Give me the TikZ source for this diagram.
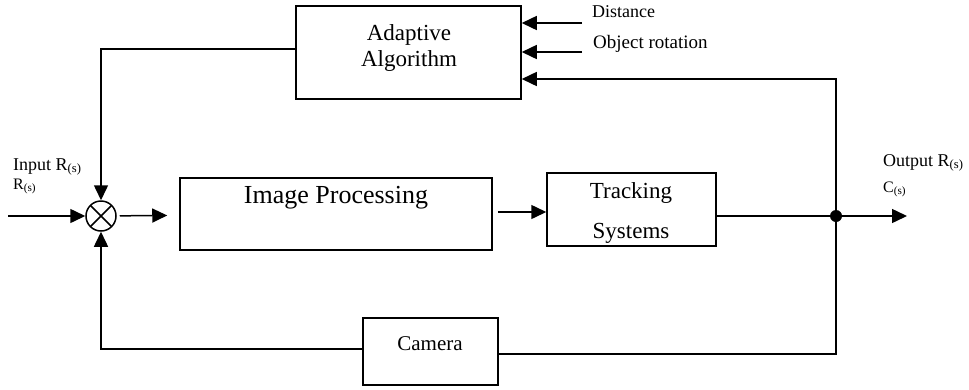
\documentclass[tikz,border=0pt]{standalone}
\usepackage{fontspec}
\setmainfont{Liberation Serif}
\usetikzlibrary{arrows.meta}
\begin{document}
\begin{tikzpicture}[x=1pt,y=-1pt,
  box/.style={draw,line width=1.5pt,inner sep=0pt},
  lbl/.style={inner sep=0pt,anchor=base},
  lblw/.style={inner sep=0pt,anchor=base west},
  conn/.style={line width=1.5pt},
  arr/.style={line width=1.5pt,-{Triangle[length=15pt,width=14pt]}},
  every node/.style={font=\fontsize{18}{20}\selectfont}]
\useasboundingbox (0,0) rectangle (969,389);
% boxes
\node[box,minimum width=225pt,minimum height=93pt] (ada) at (408.5,52.5) {};
\node[box,minimum width=312pt,minimum height=72pt] (img) at (336,214) {};
\node[box,minimum width=169pt,minimum height=73pt] (trk) at (631.5,209.5) {};
\node[box,minimum width=135pt,minimum height=67pt] (cam) at (430.5,351.5) {};
\node[draw,circle,line width=1.5pt,minimum size=30pt,inner sep=0pt,
  path picture={\draw[line width=1.5pt] (path picture bounding box.north west) -- (path picture bounding box.south east)
    (path picture bounding box.north east) -- (path picture bounding box.south west);}] (sum) at (101,216) {};
\fill (836,216) circle (6pt) coordinate (jn);
% box texts
\node[lbl,font=\fontsize{23}{25}\selectfont] (adaT1) at (409,40) {Adaptive};
\node[lbl,font=\fontsize{23}{25}\selectfont] (adaT2) at (409,66) {Algorithm};
\node[lbl,font=\fontsize{26}{28}\selectfont] (imgT) at (336,203) {Image Processing};
\node[lbl,font=\fontsize{23}{25}\selectfont] (trkT1) at (631,198) {Tracking};
\node[lbl,font=\fontsize{23}{25}\selectfont] (trkT2) at (631,238) {Systems};
\node[lbl,font=\fontsize{21}{23}\selectfont] (camT) at (430,350) {Camera};
% other texts
\node[lblw] (dstT) at (592,17) {Distance};
\node[lblw,font=\fontsize{19}{21}\selectfont] (rotT) at (593,48) {Object rotation};
\node[lblw] (inT1) at (13,170) {Input R\textsubscript{(s)}};
\node[lblw,font=\fontsize{16}{18}\selectfont] (inT2) at (13,189) {R\textsubscript{(s)}};
\node[lblw] (outT1) at (883,166) {Output R\textsubscript{(s)}};
\node[lblw,font=\fontsize{16}{18}\selectfont] (outT2) at (883,192) {C\textsubscript{(s)}};
% coordinates
\coordinate (inS) at (8,216);
\coordinate (outE) at (907,216);
\coordinate (lt) at (101,49);
\coordinate (lb) at (101,349);
\coordinate (fbtop) at (836,79);
\coordinate (fbbot) at (836,354);
\coordinate (dst) at (582,23);
\coordinate (rot) at (582,52);
% connectors
\draw[arr] (inS) -- (sum);
\draw[arr,shorten <=3pt,shorten >=12pt] (sum) -- (img);
\draw[arr,shorten <=5pt] (img.east |- 0,212) -- (trk.west |- 0,212);
\draw[conn] (trk.east |- jn) -- (jn);
\draw[arr] (jn) -- (outE);
\draw[arr] (cam.east |- fbbot) -- (fbbot) -- (fbtop) -- (ada.east |- fbtop);
\draw[arr] (ada.west |- lt) -- (lt) -- (sum);
\draw[arr] (cam.west |- lb) -- (lb) -- (sum);
\draw[arr] (dst) -- (dst -| ada.east);
\draw[arr] (rot) -- (rot -| ada.east);
\end{tikzpicture}
\end{document}
